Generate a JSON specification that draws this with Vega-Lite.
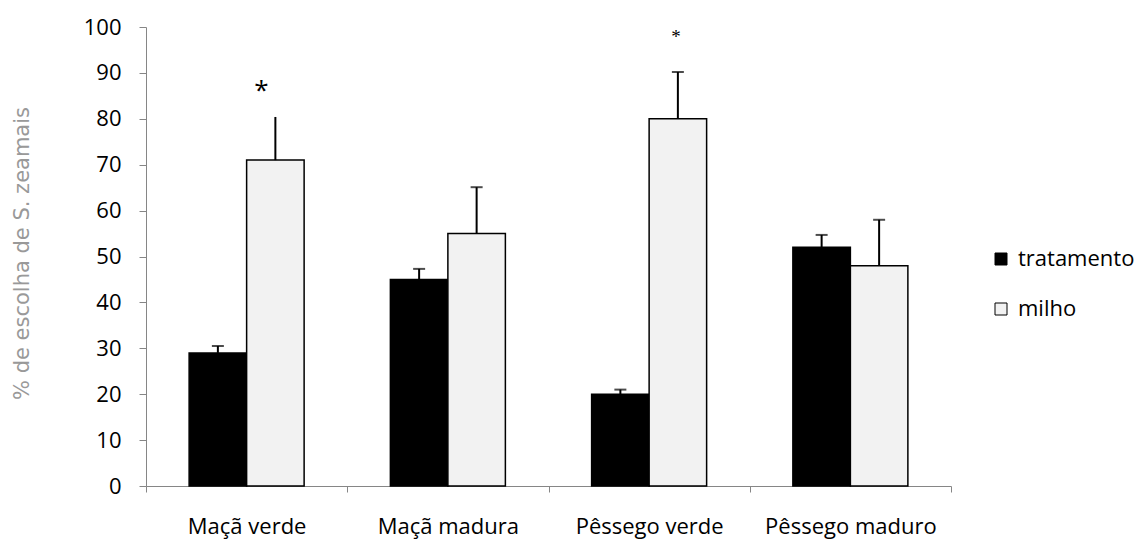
{
  "$schema": "https://vega.github.io/schema/vega-lite/v6.json",
  "autosize": {"type": "none"},
  "width": 805,
  "height": 459,
  "padding": {"left": 146, "top": 27, "right": 190, "bottom": 57},
  "background": "white",
  "config": {"view": {"stroke": null}, "font": "Open Sans"},
  "datasets": {
    "bars": [
      {"fruta": "Maçã verde", "grupo": "tratamento", "valor": 29, "erro": 30.5, "cap": true},
      {"fruta": "Maçã verde", "grupo": "milho", "valor": 71, "erro": 80.4, "cap": false},
      {"fruta": "Maçã madura", "grupo": "tratamento", "valor": 45, "erro": 47.3, "cap": true},
      {"fruta": "Maçã madura", "grupo": "milho", "valor": 55, "erro": 65.1, "cap": true},
      {"fruta": "Pêssego verde", "grupo": "tratamento", "valor": 20, "erro": 21, "cap": true},
      {"fruta": "Pêssego verde", "grupo": "milho", "valor": 80, "erro": 90.2, "cap": true},
      {"fruta": "Pêssego maduro", "grupo": "tratamento", "valor": 52, "erro": 54.7, "cap": true},
      {"fruta": "Pêssego maduro", "grupo": "milho", "valor": 48, "erro": 58, "cap": true}
    ],
    "stars": [
      {"fruta": "Maçã verde", "grupo": "milho", "pos": 86, "texto": "*"},
      {"fruta": "Pêssego verde", "grupo": "milho", "pos": 97.8, "texto": "*"}
    ]
  },
  "data": {"name": "bars"},
  "encoding": {
    "x": {
      "field": "fruta",
      "type": "nominal",
      "sort": ["Maçã verde", "Maçã madura", "Pêssego verde", "Pêssego maduro"],
      "scale": {"paddingInner": 0, "paddingOuter": 0},
      "axis": {
        "title": null,
        "labelAngle": 0,
        "tickBand": "extent",
        "domainColor": "#868686",
        "tickColor": "#868686",
        "tickSize": 6,
        "labelFontSize": 22,
        "labelColor": "black",
        "labelPadding": 24,
        "labelFont": "Open Sans"
      }
    },
    "xOffset": {
      "field": "grupo",
      "type": "nominal",
      "scale": {"domain": ["tratamento", "milho"], "paddingInner": 0, "paddingOuter": 0.75}
    }
  },
  "layer": [
    {
      "mark": {"type": "bar", "stroke": "black", "strokeWidth": 1.5},
      "encoding": {
        "y": {
          "field": "valor",
          "type": "quantitative",
          "scale": {"domain": [0, 100], "nice": false},
          "axis": {
            "title": "% de escolha de S. zeamais",
            "titleColor": "#999999",
            "titleFont": "DejaVu Sans",
            "titleFontSize": 21,
            "titleFontWeight": "normal",
            "titleX": -124,
            "titleY": 226,
            "titleAngle": -90,
            "titleBaseline": "middle",
            "titleAlign": "center",
            "values": [0, 10, 20, 30, 40, 50, 60, 70, 80, 90, 100],
            "grid": false,
            "domainColor": "#868686",
            "tickColor": "#868686",
            "tickSize": 7,
            "labelFontSize": 22,
            "labelColor": "black",
            "labelPadding": 18
          }
        },
        "color": {
          "field": "grupo",
          "type": "nominal",
          "scale": {"domain": ["tratamento", "milho"], "range": ["#000000", "#f2f2f2"]},
          "legend": {
            "title": null,
            "orient": "none",
            "legendX": 844,
            "legendY": 221,
            "padding": 0,
            "symbolType": "square",
            "symbolSize": 144,
            "symbolStrokeColor": "black",
            "symbolStrokeWidth": 1,
            "symbolOpacity": 1,
            "labelFontSize": 22,
            "labelFont": "Open Sans",
            "labelColor": "black",
            "labelOffset": 6,
            "rowPadding": 28
          }
        }
      }
    },
    {
      "mark": {"type": "rule", "color": "black", "strokeWidth": 2},
      "encoding": {
        "y": {"field": "valor", "type": "quantitative"},
        "y2": {"field": "erro"}
      }
    },
    {
      "transform": [{"filter": "datum.cap"}],
      "mark": {"type": "tick", "color": "black", "size": 12, "thickness": 2, "orient": "horizontal"},
      "encoding": {
        "y": {"field": "erro", "type": "quantitative"}
      }
    },
    {
      "data": {"name": "stars"},
      "transform": [{"filter": "datum.fruta == 'Maçã verde'"}],
      "mark": {"type": "text", "fontSize": 26, "font": "Open Sans", "color": "black", "dx": -14},
      "encoding": {
        "y": {"field": "pos", "type": "quantitative"},
        "text": {"field": "texto"}
      }
    },
    {
      "data": {"name": "stars"},
      "transform": [{"filter": "datum.fruta == 'Pêssego verde'"}],
      "mark": {"type": "text", "fontSize": 19, "font": "Liberation Serif", "color": "black", "dx": -2},
      "encoding": {
        "y": {"field": "pos", "type": "quantitative"},
        "text": {"field": "texto"}
      }
    }
  ]
}
